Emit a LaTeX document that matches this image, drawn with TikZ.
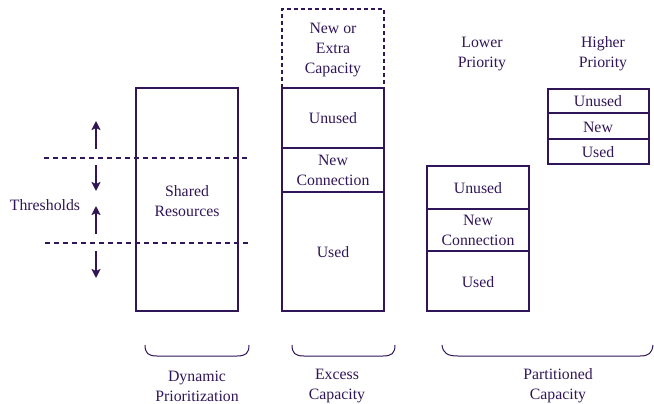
\documentclass[tikz,border=0pt]{standalone}
\usepackage{fontspec}
\setmainfont{Liberation Serif}
\usetikzlibrary{arrows.meta}
\definecolor{ink}{RGB}{48,22,88}
\begin{document}
\begin{tikzpicture}[x=1pt,y=-1pt,
  every node/.style={text=ink,font=\fontsize{15.8}{20}\selectfont,align=center,inner sep=0pt},
  box/.style={draw=ink,line width=1.1pt},
  dbox/.style={draw=ink,line width=1.4pt,dash pattern=on 4pt off 3pt},
  thr/.style={draw=ink,line width=1.4pt,dash pattern=on 5pt off 4pt},
  arr/.style={draw=ink,line width=2pt,-{Stealth[length=9pt,width=9pt,inset=2pt]}},
  brace/.style={draw=ink,line width=1pt}]
\useasboundingbox (0,0) rectangle (654,404);

% Dynamic prioritization
\draw[box] (136,88) rectangle (238,311);
\node (shared) at (187,201) {Shared\\Resources};
\coordinate (t1l) at (44,158); \coordinate (t1r) at (250,158);
\coordinate (t2l) at (45,243); \coordinate (t2r) at (250,243);
\draw[thr] (t1l) -- (t1r);
\draw[thr] (t2l) -- (t2r);
\coordinate (a1s) at (96,149); \coordinate (a1e) at (96,121);
\coordinate (a2s) at (96,165); \coordinate (a2e) at (96,191);
\coordinate (a3s) at (96,234); \coordinate (a3e) at (96,206);
\coordinate (a4s) at (96,251); \coordinate (a4e) at (96,278);
\draw[arr] (a1s) -- (a1e);
\draw[arr] (a2s) -- (a2e);
\draw[arr] (a3s) -- (a3e);
\draw[arr] (a4s) -- (a4e);
\node (thresholds) at (45,205) {Thresholds};

% Excess capacity
\draw[dbox] (282,88) -- (282,9) -- (384,9) -- (384,88);
\draw[box] (282,88) rectangle (384,311);
\draw[box] (282,148) -- (384,148);
\draw[box] (282,192) -- (384,192);
\node (extra) at (333,50) {New or\\Extra\\Capacity};
\node (unused1) at (333,118) {Unused};
\node (newc1) at (333,170) {New\\Connection};
\node (used1) at (333,252) {Used};

% Partitioned: lower priority
\node (lower) at (482,54) {Lower\\Priority};
\draw[box] (427,166) rectangle (529,311);
\draw[box] (427,209) -- (529,209);
\draw[box] (427,251) -- (529,251);
\node (unused2) at (478,188) {Unused};
\node (newc2) at (478,230) {New\\Connection};
\node (used2) at (478,282) {Used};

% Higher priority
\node (higher) at (603,54) {Higher\\Priority};
\draw[box] (548,89) rectangle (649,164);
\draw[box] (548,113) -- (649,113);
\draw[box] (548,139) -- (649,139);
\node (unused3) at (598,101) {Unused};
\node (new3) at (598,127) {New};
\node (used3) at (598,152) {Used};

% Braces
\draw[brace] (145,345) .. controls (145,353) and (148,356) .. (157,356) -- (237,356) .. controls (246,356) and (249,353) .. (249,345);
\draw[brace] (292,345) .. controls (292,353) and (295,356) .. (304,356) -- (383,356) .. controls (392,356) and (395,353) .. (395,345);
\draw[brace] (442,345) .. controls (443,353) and (447,356) .. (458,356) -- (640,356) .. controls (649,356) and (652,353) .. (653,345);

\node (dyn) at (197,386) {Dynamic\\Prioritization};
\node (exc) at (337,386) {Excess\\Capacity};
\node (part) at (558,386) {Partitioned\\Capacity};
\end{tikzpicture}
\end{document}
